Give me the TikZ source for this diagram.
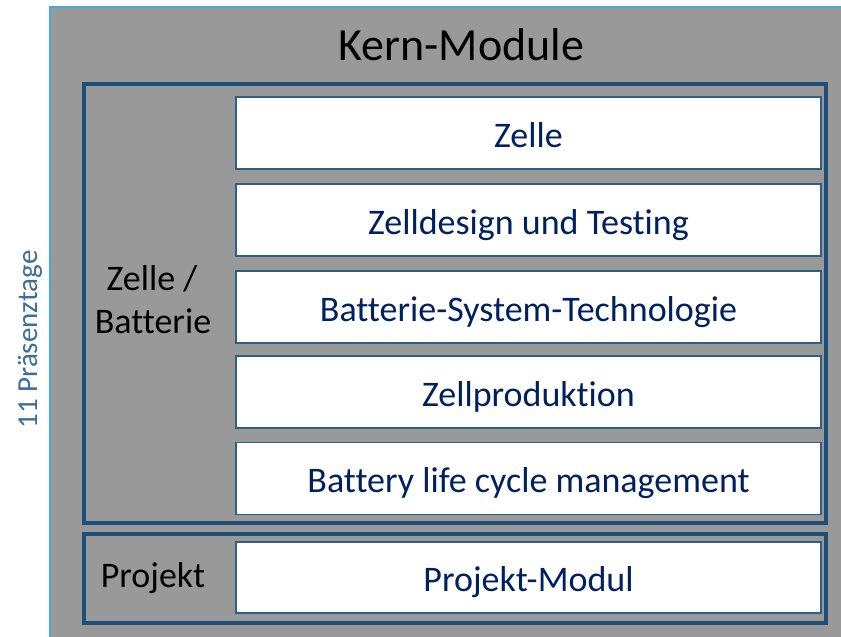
\documentclass[tikz,border=0pt]{standalone}
\usepackage{fontspec}
\setmainfont[Ligatures=NoCommon]{Carlito}
\definecolor{bggray}{HTML}{999999}
\definecolor{lightblue}{HTML}{3FAFD7}
\definecolor{darkframe}{HTML}{1F4E79}
\definecolor{boxline}{HTML}{2E5F8A}
\definecolor{navytext}{HTML}{002060}
\definecolor{sidetext}{HTML}{3C6E9A}
\tikzset{
  modbox/.style={draw=boxline, line width=1.3pt, fill=white, minimum width=585pt, minimum height=72pt, inner sep=0pt, text height=28pt, text depth=0pt, text=navytext, font=\fontsize{36}{43}\selectfont, anchor=center},
  groupframe/.style={draw=darkframe, line width=4pt},
  grouplabel/.style={text=black, font=\fontsize{36}{43}\selectfont, inner sep=0pt, anchor=base}
}
\begin{document}
\begin{tikzpicture}[x=1pt,y=-1pt]
\useasboundingbox (0,0) rectangle (841,637);
\fill[white] (0,0) rectangle (841,637);
% outer gray panel
\fill[bggray] (50,7) rectangle (845,641);
\draw[lightblue, line width=2pt] (50,641) -- (50,7) -- (845,7);
\node[text=black, font=\fontsize{46}{54}\selectfont, inner sep=0pt, anchor=base] (title) at (461.5,60) {Kern-Module};
% side label
\node[text=sidetext, font=\fontsize{29}{34}\selectfont, rotate=90, inner sep=0pt, anchor=base] (days) at (37,339.5) {11 Präsenztage};
% group frames
\draw[groupframe] (84,84) rectangle (826,523);
\draw[groupframe] (84,533.5) rectangle (826,623);
% module boxes
\node[modbox] (m1) at (528.5,133) {Zelle};
\node[modbox] (m2) at (528.5,220) {Zelldesign und Testing};
\node[modbox] (m3) at (528.5,307) {Batterie-System-Technologie};
\node[modbox] (m4) at (528.5,392) {Zellproduktion};
\node[modbox] (m5) at (528.5,478.5) {Battery life cycle management};
\node[modbox, minimum height=71pt] (m6) at (528.5,577.5) {Projekt-Modul};
% group labels
\node[grouplabel] (g1a) at (152,290) {Zelle /};
\node[grouplabel] (g1b) at (153,333) {Batterie};
\node[grouplabel] (g2) at (153,587) {Projekt};
\end{tikzpicture}
\end{document}
